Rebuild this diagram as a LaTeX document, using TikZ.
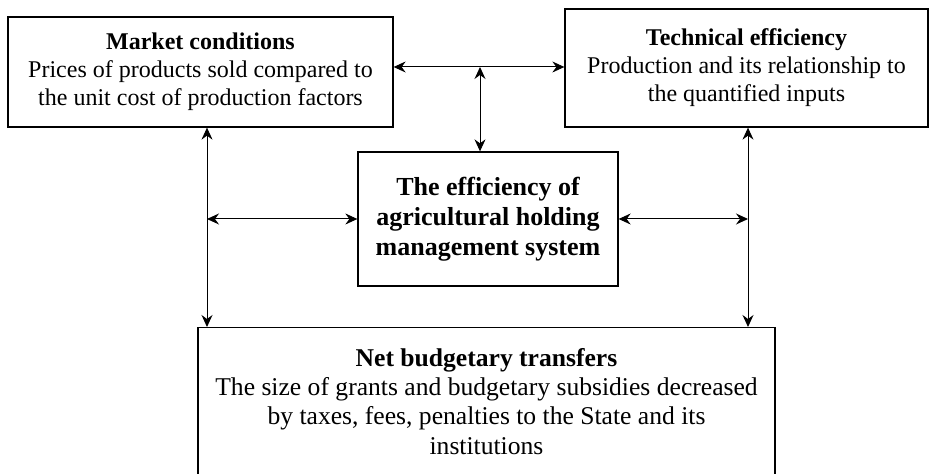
\documentclass[tikz,border=0pt]{standalone}
\usepackage{fontspec}
\setmainfont{Liberation Serif}
\usepackage{tikz}
\usetikzlibrary{arrows.meta, positioning, calc}
\tikzset{>={Stealth[length=6pt,width=5.5pt,inset=2pt]}}
\tikzset{infobox/.style={draw, line width=0.65pt, align=center, inner sep=2pt, font=\fontsize{12}{14}\selectfont},
	corebox/.style={infobox, font=\fontsize{13}{15}\selectfont\bfseries},
	link/.style={<->, line width=0.5pt}}

\begin{document}
\begin{tikzpicture}[x=0.5pt, y=-0.5pt]
	\useasboundingbox (0,0) rectangle (930,474);
	
	\node [infobox, minimum width=192.5pt, minimum height=55pt] (market) at (200.5,72) {{\bfseries Market conditions}\\Prices of products sold compared to\\the unit cost of production factors};
	\node [infobox, minimum width=181.5pt, minimum height=59pt] (tech) at (746.5,68) {{\bfseries Technical efficiency}\\Production and its relationship to\\the quantified inputs};
	\node [corebox, minimum width=130pt, minimum height=67pt] (core) at (488,219) {The efficiency of\\agricultural holding\\management system};
	% bottom box runs past the lower edge
	\node [infobox, anchor=north, minimum width=288.5pt, minimum height=90pt] (budget) at (486.5,327) {};
	\node [anchor=north, align=center, below=7pt of budget.north, font=\fontsize{12.8}{14.7}\selectfont] (budgettext) {{\bfseries Net budgetary transfers}\\The size of grants and budgetary subsidies decreased\\by taxes, fees, penalties to the State and its\\institutions};
	
	\coordinate (toplink) at (480,67);
	\coordinate (leftrail) at (207,219);
	\coordinate (rightrail) at (748,219);
	
	\draw [link] (market.east |- toplink) -- (tech.west |- toplink);
	\draw [link] (toplink) -- (toplink |- core.north);
	\draw [link] (market.south -| leftrail) -- (budget.north -| leftrail);
	\draw [link] (tech.south -| rightrail) -- (budget.north -| rightrail);
	\draw [link] (leftrail) -- (core.west);
	\draw [link] (core.east) -- (rightrail);
\end{tikzpicture}
\end{document}
